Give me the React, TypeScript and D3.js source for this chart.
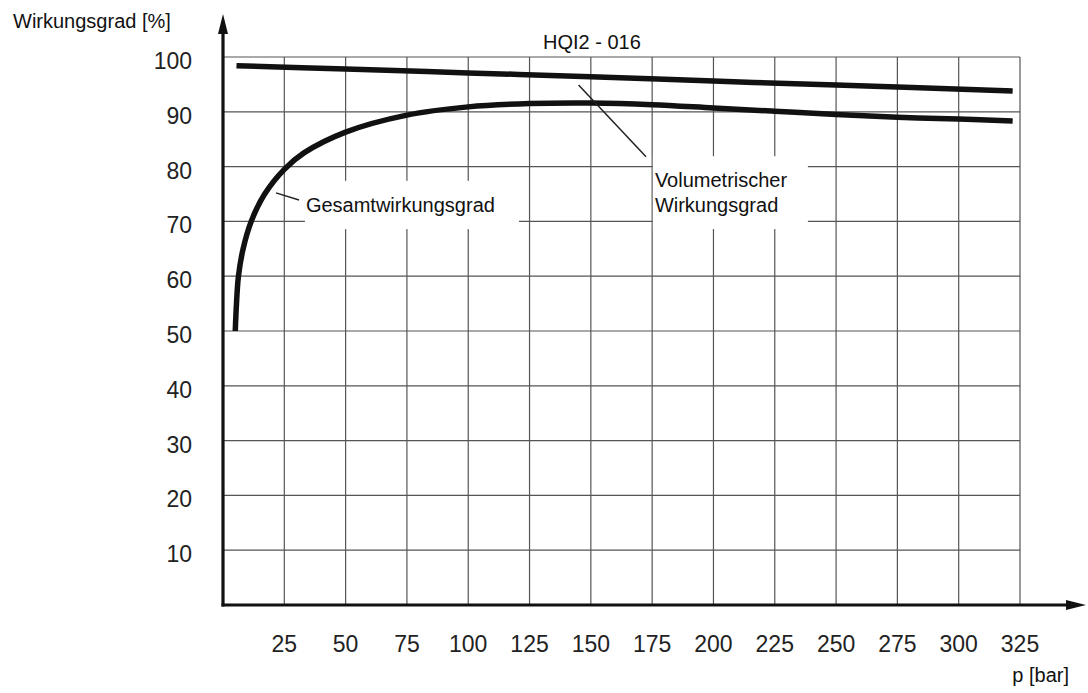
import React from "react";
import * as d3 from "d3";

// p [bar] -> Wirkungsgrad [%]
const volumetric: [number, number][] = [
  [5.5, 98.4], [50, 97.8], [100, 97.1], [150, 96.4], [200, 95.6], [250, 94.9], [322, 93.8],
];

const total: [number, number][] = [
  [5, 50], [5.5, 55], [6.3, 60], [8.2, 65], [11.5, 70], [17, 75], [25, 79.5],
  [33, 82.5], [50, 86.3], [75, 89.4], [100, 90.9], [125, 91.5], [150, 91.6], [175, 91.3],
  [200, 90.7], [225, 90.1], [250, 89.5], [275, 89.0], [300, 88.7], [322, 88.3],
];

const xTicks = [25, 50, 75, 100, 125, 150, 175, 200, 225, 250, 275, 300, 325];
const yTicks = [10, 20, 30, 40, 50, 60, 70, 80, 90, 100];

const W = 1088;
const H = 693;
const font = "'Liberation Sans', Arial, Helvetica, sans-serif";

const App: React.FC = () => {
  const x = d3.scaleLinear().domain([0, 325]).range([223, 1020]);
  const y = d3.scaleLinear().domain([0, 100]).range([605, 57]);

  const line = d3
    .line<[number, number]>()
    .x((d) => x(d[0]))
    .y((d) => y(d[1]))
    .curve(d3.curveCatmullRom.alpha(0.5));

  const grid = "#555";

  // label boxes in data units
  const box1 = { p0: 33.4, p1: 120.7, v0: 68.6, v1: 77.4 };
  const box2 = { p0: 175.3, p1: 238.5, v0: 68.6, v1: 81.9 };

  return (
    <svg
      width={W}
      height={H}
      style={{ position: "absolute", left: 0, top: 0, background: "white", fontFamily: font }}
    >
      {/* grid */}
      <g stroke={grid} strokeWidth={1.2}>
        {xTicks.map((t) => (
          <line key={"vx" + t} x1={x(t)} x2={x(t)} y1={y(0)} y2={y(100)} />
        ))}
        {yTicks.map((t) => (
          <line key={"hy" + t} x1={x(0)} x2={x(325)} y1={y(t)} y2={y(t)} />
        ))}
      </g>

      {/* label boxes knock out the grid */}
      {[box1, box2].map((b, i) => (
        <rect
          key={i}
          x={x(b.p0)}
          y={y(b.v1)}
          width={x(b.p1) - x(b.p0)}
          height={y(b.v0) - y(b.v1)}
          fill="white"
        />
      ))}

      {/* curves */}
      <path d={line(volumetric) || ""} fill="none" stroke="#111" strokeWidth={5.5} />
      <path d={line(total) || ""} fill="none" stroke="#111" strokeWidth={5.5} />

      {/* axes */}
      <g stroke="#111" strokeWidth={3.2}>
        <line x1={x(0)} x2={x(0)} y1={y(0) + 1.5} y2={30} />
        <line x1={x(0) - 1.5} x2={1068} y1={y(0)} y2={y(0)} />
      </g>
      <path d={`M${x(0)},14 L${x(0) - 5},34 L${x(0) + 5},34 Z`} fill="#111" />
      <path d={`M1086,${y(0)} L1066,${y(0) - 5} L1066,${y(0) + 5} Z`} fill="#111" />

      {/* tick labels */}
      <g fontSize={23} fill="#222">
        {yTicks.map((t) => (
          <text key={"ly" + t} x={192} y={y(t) + 12} textAnchor="end">
            {t}
          </text>
        ))}
        {xTicks.map((t) => (
          <text key={"lx" + t} x={x(t)} y={652} textAnchor="middle">
            {t}
          </text>
        ))}
      </g>

      <g fontSize={20} fill="#111">
        <text x={13} y={28}>Wirkungsgrad [%]</text>
        <text x={1069} y={682} textAnchor="end">p [bar]</text>
        <text x={543} y={49}>HQI2 - 016</text>
        <text x={x(box1.p0) + 1} y={212}>Gesamtwirkungsgrad</text>
        <text x={x(box2.p0) + 2} y={187}>Volumetrischer</text>
        <text x={x(box2.p0) + 2} y={212}>Wirkungsgrad</text>
      </g>

      {/* leader lines */}
      <g stroke="#222" strokeWidth={1.5}>
        <line x1={x(21.6)} y1={y(75.2)} x2={x(31)} y2={y(73.9)} />
        <line x1={x(145)} y1={y(94.9)} x2={x(172.5)} y2={y(81.8)} />
      </g>
    </svg>
  );
};

export default App;
